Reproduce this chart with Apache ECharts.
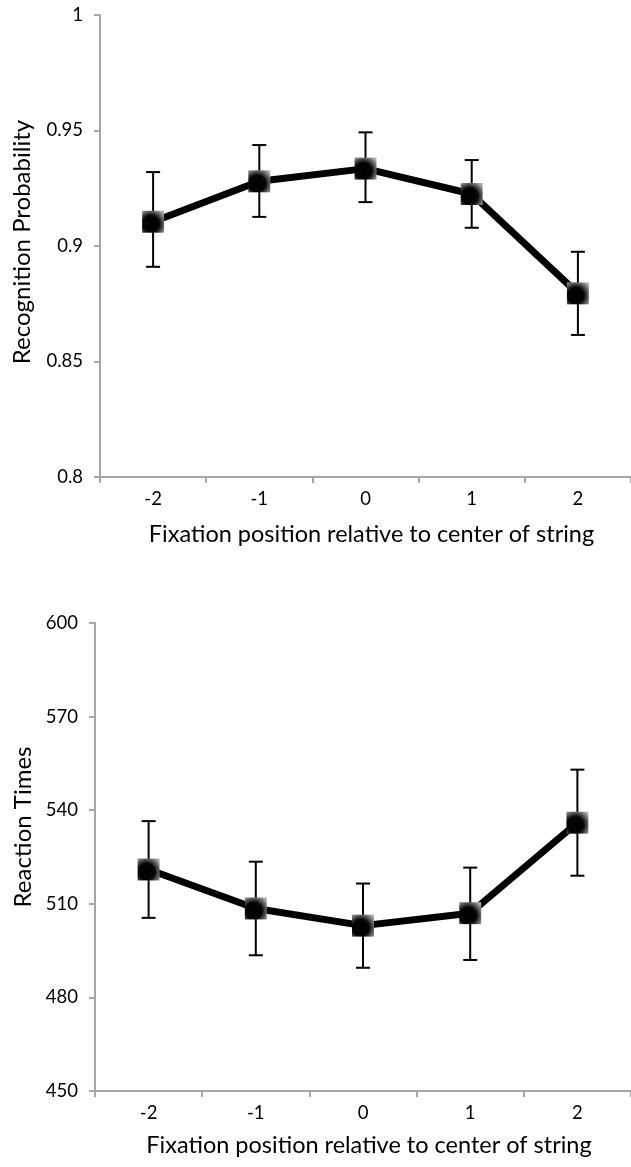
<!DOCTYPE html>
<html>
<head>
<meta charset="utf-8">
<script src="https://cdn.jsdelivr.net/npm/echarts@6/dist/echarts.min.js"></script>
<style>
  html, body { margin: 0; padding: 0; background: #fff; }
  #chart { width: 631px; height: 1167px; }
</style>
</head>
<body>
<div id="chart"></div>
<script>
// Fixation positions (letters relative to centre of the string)
var positions = ['-2', '-1', '0', '1', '2'];

// Recognition probability: means and error-bar limits
var probMean = [0.9105, 0.928, 0.9335, 0.9225, 0.8795];
var probLow  = [0.891, 0.9126, 0.919, 0.9079, 0.8615];
var probHigh = [0.932, 0.9437, 0.9492, 0.9372, 0.8975];

// Reaction times (ms): means and error-bar limits
var rtMean = [521, 508.5, 503, 507, 536];
var rtLow  = [505.5, 493.5, 489.5, 492, 519];
var rtHigh = [536.5, 523.5, 516.5, 521.6, 553];

var probTicks = { min: 0.8, max: 1, interval: 0.05 };
var rtTicks = { min: 450, max: 600, interval: 30 };

var FONT = 'Lato, "Open Sans", sans-serif';
var AXIS_GREY = '#a6a6a6';

function rows(lo, hi) {
  return lo.map(function (v, i) { return [i, v, hi[i]]; });
}

// Vertical whisker with a cap at each end
function errorBar(params, api) {
  var i = api.value(0);
  var top = api.coord([i, api.value(2)]);
  var bot = api.coord([i, api.value(1)]);
  var w = 7;
  var st = { stroke: '#000', lineWidth: 2 };
  return {
    type: 'group',
    children: [
      { type: 'line', shape: { x1: top[0], y1: top[1], x2: bot[0], y2: bot[1] }, style: st },
      { type: 'line', shape: { x1: top[0] - w, y1: top[1], x2: top[0] + w, y2: top[1] }, style: st },
      { type: 'line', shape: { x1: bot[0] - w, y1: bot[1], x2: bot[0] + w, y2: bot[1] }, style: st }
    ]
  };
}

var markerFill = {
  type: 'radial', x: 0.4, y: 0.6, r: 0.75,
  colorStops: [
    { offset: 0, color: '#000' },
    { offset: 0.5, color: '#050505' },
    { offset: 1, color: '#b0b0b0' }
  ]
};

function xAxis(gridIndex, nameGap) {
  return {
    type: 'category', gridIndex: gridIndex, data: positions, boundaryGap: true,
    name: 'Fixation position relative to center of string',
    nameLocation: 'middle', nameGap: nameGap,
    nameTextStyle: { fontFamily: FONT, fontSize: 23.5, color: '#000', padding: [0, 0, 0, 12] },
    axisLine: { lineStyle: { color: AXIS_GREY, width: 2 } },
    axisTick: { show: true, length: 6, alignWithLabel: false, lineStyle: { color: AXIS_GREY, width: 2 } },
    axisLabel: { fontFamily: FONT, fontSize: 18.5, color: '#000', margin: 13 },
    splitLine: { show: false }
  };
}

function yAxis(gridIndex, name, ticks, nameGap, lift) {
  return {
    type: 'value', gridIndex: gridIndex, name: name,
    min: ticks.min, max: ticks.max, interval: ticks.interval,
    nameLocation: 'middle', nameGap: nameGap,
    nameTextStyle: { fontFamily: FONT, fontSize: 24, color: '#000', padding: [0, 0, 0, lift] },
    axisLine: { show: true, lineStyle: { color: AXIS_GREY, width: 2 } },
    axisTick: { show: true, length: 6, lineStyle: { color: AXIS_GREY, width: 2 } },
    axisLabel: { fontFamily: FONT, fontSize: 18.5, color: '#000', margin: 17 },
    splitLine: { show: false }
  };
}

function lineSeries(idx, data) {
  return {
    type: 'line', xAxisIndex: idx, yAxisIndex: idx, data: data,
    symbol: 'rect', symbolSize: 22,
    itemStyle: { color: markerFill },
    lineStyle: { color: '#000', width: 7 },
    z: 3, silent: true, animation: false
  };
}

function barSeries(idx, lo, hi) {
  return {
    type: 'custom', xAxisIndex: idx, yAxisIndex: idx,
    renderItem: errorBar, data: rows(lo, hi),
    encode: { x: 0, y: [1, 2] },
    z: 2, silent: true, animation: false
  };
}

var chart = echarts.init(document.getElementById('chart'), null, { renderer: 'canvas' });
chart.setOption({
  animation: false,
  backgroundColor: '#fff',
  grid: [
    { left: 100, top: 15, width: 544, height: 462 },
    { left: 95, top: 623, width: 543, height: 468 }
  ],
  xAxis: [xAxis(0, 45), xAxis(1, 42)],
  yAxis: [
    yAxis(0, 'Recognition Probability', probTicks, 66, 8),
    yAxis(1, 'Reaction Times', rtTicks, 60, 60)
  ],
  series: [
    barSeries(0, probLow, probHigh),
    lineSeries(0, probMean),
    barSeries(1, rtLow, rtHigh),
    lineSeries(1, rtMean)
  ]
});
</script>
</body>
</html>
